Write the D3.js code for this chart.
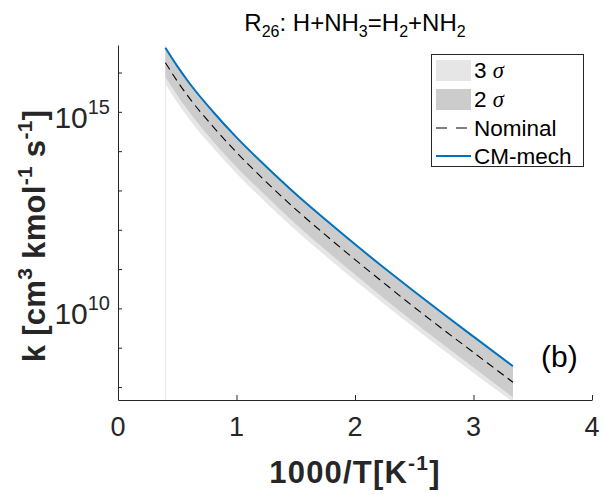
<!DOCTYPE html>
<html><head><meta charset="utf-8">
<script src="https://cdn.jsdelivr.net/npm/d3@7"></script>
<style>
body{margin:0;background:#fff;}
svg{display:block;font-family:"Liberation Sans",Arial,Helvetica,sans-serif;}
</style>
</head><body>
<svg id="chart" width="604" height="495"></svg>
<script>
// 1000/T [1/K]
const invT = [0.4, 0.5, 0.6, 0.8, 1.0, 1.25, 1.5, 1.75, 2.0, 2.25, 2.5, 2.75, 3.0, 3.333];
// CM-mech rate constant
const kCM = [4.27e16, 1.45e16, 5.50e15, 1.02e15, 2.24e14, 4.07e13, 8.13e12, 1.82e12, 4.27e11, 1.05e11, 2.69e10, 7.08e9, 1.91e9, 3.39e8];
// Nominal rate constant
const kNominal = [1.78e16, 6.03e15, 2.29e15, 4.27e14, 9.33e13, 1.66e13, 3.31e12, 7.41e11, 1.74e11, 4.27e10, 1.07e10, 2.82e9, 7.59e8, 1.32e8];
// 2 sigma band
const k2sUpper = [4.07e16, 1.38e16, 5.25e15, 9.77e14, 2.14e14, 3.89e13, 7.76e12, 1.74e12, 4.07e11, 1.00e11, 2.57e10, 6.76e9, 1.82e9, 3.24e8];
const k2sLower = [7.76e15, 2.63e15, 1.00e15, 1.82e14, 3.98e13, 7.24e12, 1.41e12, 3.09e11, 7.24e10, 1.74e10, 4.47e9, 1.17e9, 3.16e8, 5.50e7];
// 3 sigma band
const k3sUpper = [4.17e16, 1.41e16, 5.37e15, 1.00e15, 2.19e14, 3.98e13, 7.94e12, 1.78e12, 4.17e11, 1.02e11, 2.63e10, 6.92e9, 1.86e9, 3.31e8];
const k3sLower = [5.13e15, 1.74e15, 6.61e14, 1.23e14, 2.69e13, 4.90e12, 9.77e11, 2.19e11, 5.13e10, 1.26e10, 3.24e9, 8.51e8, 2.29e8, 4.17e7];

const xTickValues = [0, 1, 2, 3, 4];
const yMajorExps = [10, 15];
const yMinorExps = [8, 9, 11, 12, 13, 14, 16];
const legendLabels = ["3 ", "2 ", "Nominal", "CM-mech"];

const svg = d3.select("#chart");
const L = 118, R = 592, T = 45, B = 400;
const axisColor = "#262626";

const x = d3.scaleLinear().domain([0, 4]).range([L, R]);
const y = d3.scaleLog().domain([Math.pow(10, 7.67), Math.pow(10, 16.7)]).range([B, T]);

svg.append("defs").append("clipPath").attr("id", "clip")
  .append("rect").attr("x", L).attr("y", T).attr("width", R - L).attr("height", B - T);

const plot = svg.append("g").attr("clip-path", "url(#clip)");

// faint vertical edge at the high-temperature limit
plot.append("line")
  .attr("x1", x(invT[0])).attr("x2", x(invT[0]))
  .attr("y1", T).attr("y2", B)
  .attr("stroke", "#e6e6e6").attr("stroke-width", 1);

const idx = d3.range(invT.length);
const band = (lo, hi) => d3.area()
  .x(i => x(invT[i])).y0(i => y(lo[i])).y1(i => y(hi[i]))
  .curve(d3.curveMonotoneX);

plot.append("path").attr("d", band(k3sLower, k3sUpper)(idx)).attr("fill", "#e6e6e6");
plot.append("path").attr("d", band(k2sLower, k2sUpper)(idx)).attr("fill", "#cccccc");

const lineGen = arr => d3.line().x(i => x(invT[i])).y(i => y(arr[i])).curve(d3.curveMonotoneX);

plot.append("path").attr("d", lineGen(kNominal)(idx))
  .attr("fill", "none").attr("stroke", "#000").attr("stroke-width", 1.1)
  .attr("stroke-dasharray", "8,5");
plot.append("path").attr("d", lineGen(kCM)(idx))
  .attr("fill", "none").attr("stroke", "#0072BD").attr("stroke-width", 2);

// axes
const xAxis = d3.axisBottom(x).tickValues(xTickValues).tickSizeInner(-5).tickSizeOuter(0).tickFormat("");
const gx = svg.append("g").attr("transform", `translate(0,${B})`).call(xAxis);
gx.select(".domain").attr("stroke", axisColor);
gx.selectAll(".tick line").attr("stroke", axisColor);

const yTickVals = yMajorExps.concat(yMinorExps).map(e => Math.pow(10, e));
const yAxis = d3.axisLeft(y).tickValues(yTickVals).tickSizeInner(-4).tickSizeOuter(0).tickFormat("");
const gy = svg.append("g").attr("transform", `translate(${L},0)`).call(yAxis);
gy.select(".domain").attr("stroke", axisColor);
gy.selectAll(".tick line").attr("stroke", axisColor);

// x tick labels
svg.append("g").selectAll("text").data(xTickValues).join("text")
  .attr("x", d => x(d)).attr("y", 436)
  .attr("text-anchor", "middle").attr("font-size", 27).attr("fill", axisColor)
  .text(d => d);

// y tick labels 10^n
yMajorExps.forEach(e => {
  const t = svg.append("text").attr("x", L - 8).attr("y", y(Math.pow(10, e)) + 16)
    .attr("text-anchor", "end").attr("fill", axisColor);
  t.append("tspan").attr("font-size", 30).text("10");
  t.append("tspan").attr("font-size", 20).attr("dy", -14).text(e);
});

// title
const title = svg.append("text").attr("x", 355).attr("y", 31).attr("text-anchor", "middle")
  .attr("font-size", 24).attr("fill", "#000");
title.append("tspan").text("R");
title.append("tspan").attr("font-size", 16).attr("dy", 6).text("26");
title.append("tspan").attr("dy", -6).text(":  H+NH");
title.append("tspan").attr("font-size", 16).attr("dy", 6).text("3");
title.append("tspan").attr("dy", -6).text("=H");
title.append("tspan").attr("font-size", 16).attr("dy", 6).text("2");
title.append("tspan").attr("dy", -6).text("+NH");
title.append("tspan").attr("font-size", 16).attr("dy", 6).text("2");

// x label
const xl = svg.append("text").attr("x", 355).attr("y", 483).attr("text-anchor", "middle")
  .attr("font-size", 31).attr("font-weight", "bold").attr("fill", axisColor)
  .attr("letter-spacing", 1.2);
xl.append("tspan").text("1000/T[K");
xl.append("tspan").attr("font-size", 21).attr("dy", -13).text("-1");
xl.append("tspan").attr("dy", 13).text("]");

// y label
const yl = svg.append("text").attr("transform", "translate(45,236) rotate(-90)")
  .attr("text-anchor", "middle").attr("font-size", 31).attr("font-weight", "bold")
  .attr("fill", axisColor).attr("letter-spacing", 0.3);
yl.append("tspan").text("k [cm");
yl.append("tspan").attr("font-size", 21).attr("dy", -13).text("3");
yl.append("tspan").attr("dy", 13).text(" kmol");
yl.append("tspan").attr("font-size", 21).attr("dy", -13).text("-1");
yl.append("tspan").attr("dy", 13).text(" s");
yl.append("tspan").attr("font-size", 21).attr("dy", -13).text("-1");
yl.append("tspan").attr("dy", 13).text("]");

// panel label
svg.append("text").attr("x", 541).attr("y", 367).attr("font-size", 30).attr("fill", "#000").text("(b)");

// legend
const lg = svg.append("g");
lg.append("rect").attr("x", 431.5).attr("y", 54.5).attr("width", 152).attr("height", 112)
  .attr("fill", "#fff").attr("stroke", axisColor).attr("stroke-width", 1);
const rows = [70, 99, 128, 156];
lg.append("rect").attr("x", 436).attr("y", rows[0] - 10).attr("width", 35).attr("height", 21).attr("fill", "#e6e6e6");
lg.append("rect").attr("x", 436).attr("y", rows[1] - 10).attr("width", 35).attr("height", 21).attr("fill", "#cccccc");
lg.append("line").attr("x1", 436).attr("x2", 471).attr("y1", rows[2]).attr("y2", rows[2])
  .attr("stroke", "#000").attr("stroke-width", 1.1).attr("stroke-dasharray", "11,9");
lg.append("line").attr("x1", 436).attr("x2", 471).attr("y1", rows[3]).attr("y2", rows[3])
  .attr("stroke", "#0072BD").attr("stroke-width", 2);
legendLabels.forEach((lab, i) => {
  const t = lg.append("text").attr("x", 474).attr("y", rows[i] + 8).attr("font-size", 22.5).attr("fill", "#000");
  t.append("tspan").text(lab);
  if (i < 2) t.append("tspan").attr("font-family", "'Liberation Serif','DejaVu Serif',serif")
    .attr("font-style", "italic").text("σ");
});
</script>
</body></html>
